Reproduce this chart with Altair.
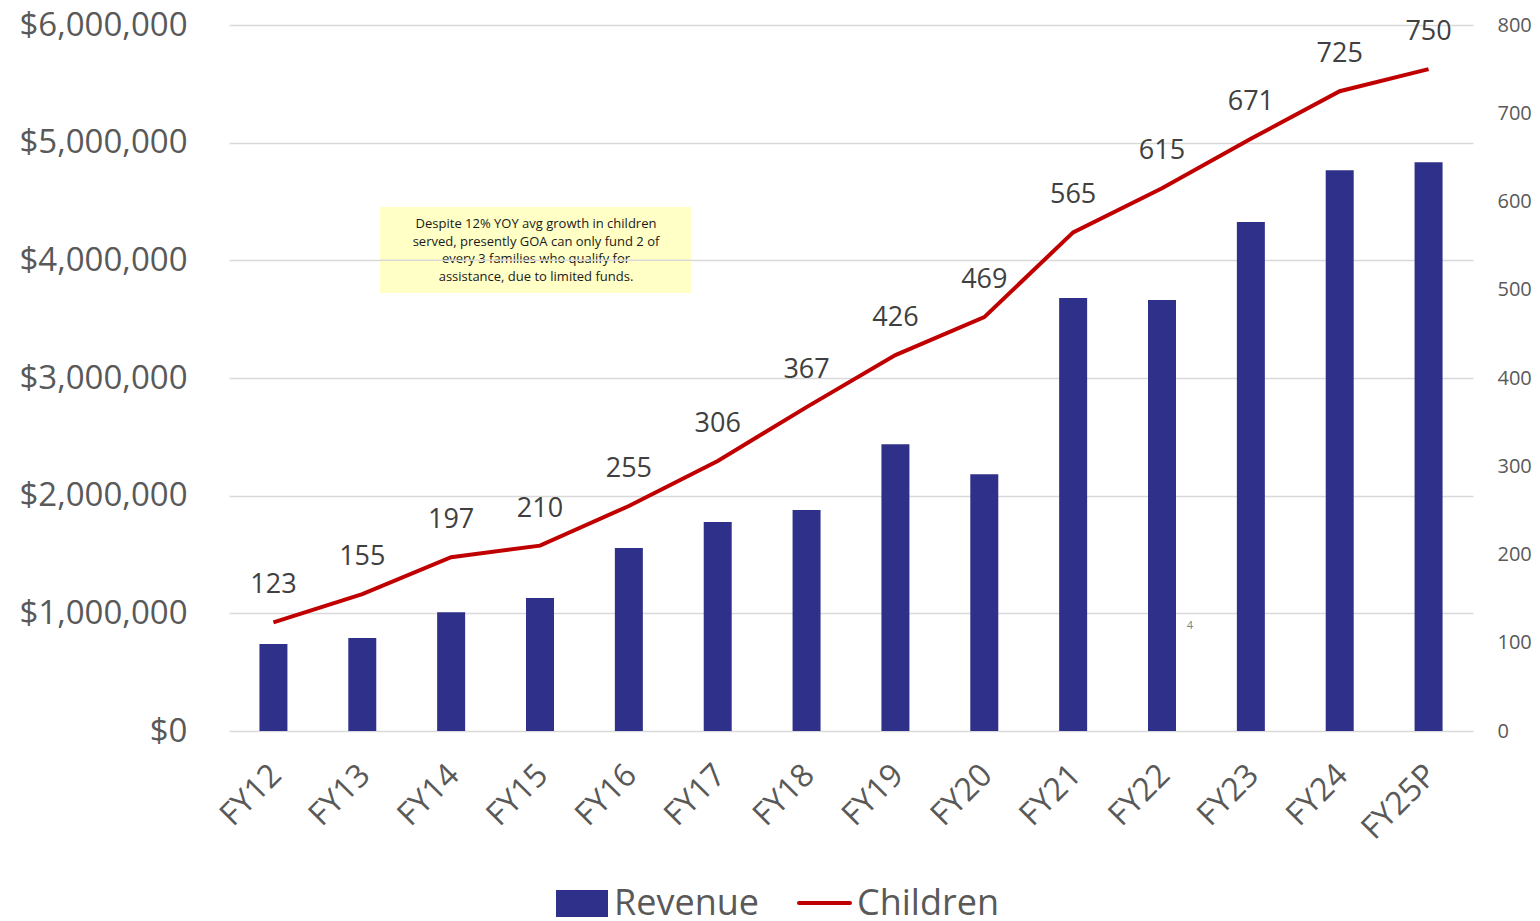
import altair as alt
import pandas as pd

years = ["FY12", "FY13", "FY14", "FY15", "FY16", "FY17", "FY18", "FY19",
         "FY20", "FY21", "FY22", "FY23", "FY24", "FY25P"]
revenue = [740000, 790000, 1010000, 1130000, 1555000, 1776000, 1878000, 2438000,
           2183000, 3679000, 3662000, 4325000, 4766000, 4834000]
children = [123, 155, 197, 210, 255, 306, 367, 426, 469, 565, 615, 671, 725, 750]
left_ticks = [0, 1000000, 2000000, 3000000, 4000000, 5000000, 6000000]
right_ticks = [0, 100, 200, 300, 400, 500, 600, 700, 800]
note_lines = ["Despite 12% YOY avg growth in children",
              "served, presently GOA can only fund 2  of",
              "every 3 families who qualify for",
              "assistance, due to limited funds."]

df = pd.DataFrame({"Year": years, "Revenue": revenue, "Children": children})
one = pd.DataFrame({"k": [0]})

FONT = "Open Sans"
BAR = "#2E3089"
LINE = "#C00000"
GREY = "#595959"

xenc = alt.X("Year:N", sort=years, title=None,
             scale=alt.Scale(paddingInner=0.685, paddingOuter=0.3425),
             axis=alt.Axis(labelAngle=-45, labelFontSize=32, labelColor=GREY,
                           labelFont=FONT, domain=False, ticks=False,
                           labelPadding=28, labelOffset=-8,
                           labelAlign="right", labelBaseline="top"))

base = alt.Chart(df)

bars = base.mark_bar(color=BAR).encode(
    x=xenc,
    y=alt.Y("Revenue:Q", title=None,
            scale=alt.Scale(domain=[0, 6000000], nice=False),
            axis=alt.Axis(values=left_ticks, format="$,.0f", labelFontSize=33,
                          labelColor=GREY, labelFont=FONT, domain=False, ticks=False,
                          labelPadding=42, grid=True, gridColor="#D9D9D9",
                          gridWidth=1.5))
)

box = alt.Chart(one).mark_rect(color="#FFFFC6").encode(
    x=alt.value(151), x2=alt.value(462), y=alt.value(182), y2=alt.value(268))

note_df = pd.DataFrame({"t": note_lines, "i": [0, 1, 2, 3]})
note = alt.Chart(note_df).mark_text(fontSize=13, font=FONT, color="#1a1a1a",
                                     align="center", baseline="middle").transform_calculate(
    yy="199 + datum.i * 17.5").encode(
    x=alt.value(307), y=alt.Y("yy:Q", scale=None), text="t:N")

grid4 = alt.Chart(one).mark_rule(color="#D9D9D9", strokeWidth=1.5).encode(
    x=alt.value(151), x2=alt.value(462), y=alt.datum(4000000))

small4 = alt.Chart(one).mark_text(text="4", fontSize=11, color="#808080", font=FONT).encode(
    x=alt.value(961), y=alt.value(601))

# legend
leg_rect = alt.Chart(one).mark_rect(color=BAR).encode(
    x=alt.value(327), x2=alt.value(379), y=alt.value(865), y2=alt.value(892))
leg_rev = alt.Chart(one).mark_text(text="Revenue", fontSize=36, font=FONT, color=GREY,
                                   align="left", baseline="middle").encode(
    x=alt.value(385), y=alt.value(879))
leg_line = alt.Chart(one).mark_rule(color=LINE, strokeWidth=4, strokeCap="round").encode(
    x=alt.value(570), x2=alt.value(621), y=alt.value(878))
leg_ch = alt.Chart(one).mark_text(text="Children", fontSize=36, font=FONT, color=GREY,
                                  align="left", baseline="middle").encode(
    x=alt.value(628), y=alt.value(879))

left = alt.layer(bars, box, note, grid4, small4, leg_rect, leg_rev, leg_line, leg_ch)

yr = alt.Y("Children:Q", title=None, scale=alt.Scale(domain=[0, 800], nice=False),
           axis=alt.Axis(orient="right", values=right_ticks, labelFontSize=20,
                         labelColor=GREY, labelFont=FONT, domain=False, ticks=False,
                         labelPadding=24, grid=False))

line = base.mark_line(color=LINE, strokeWidth=4).encode(x=xenc, y=yr)
labels = base.mark_text(fontSize=27, font=FONT, color="#404040", dy=-37).encode(
    x=xenc, y=yr, text="Children:Q")

right = alt.layer(line, labels)

chart = alt.layer(left, right).resolve_scale(y="independent").properties(
    width=1244, height=706, padding={"left": 10, "top": 1, "right": 0, "bottom": 0}
).configure_view(stroke=None)

chart.save("out.html", embed_options={"renderer": "svg", "actions": False})
